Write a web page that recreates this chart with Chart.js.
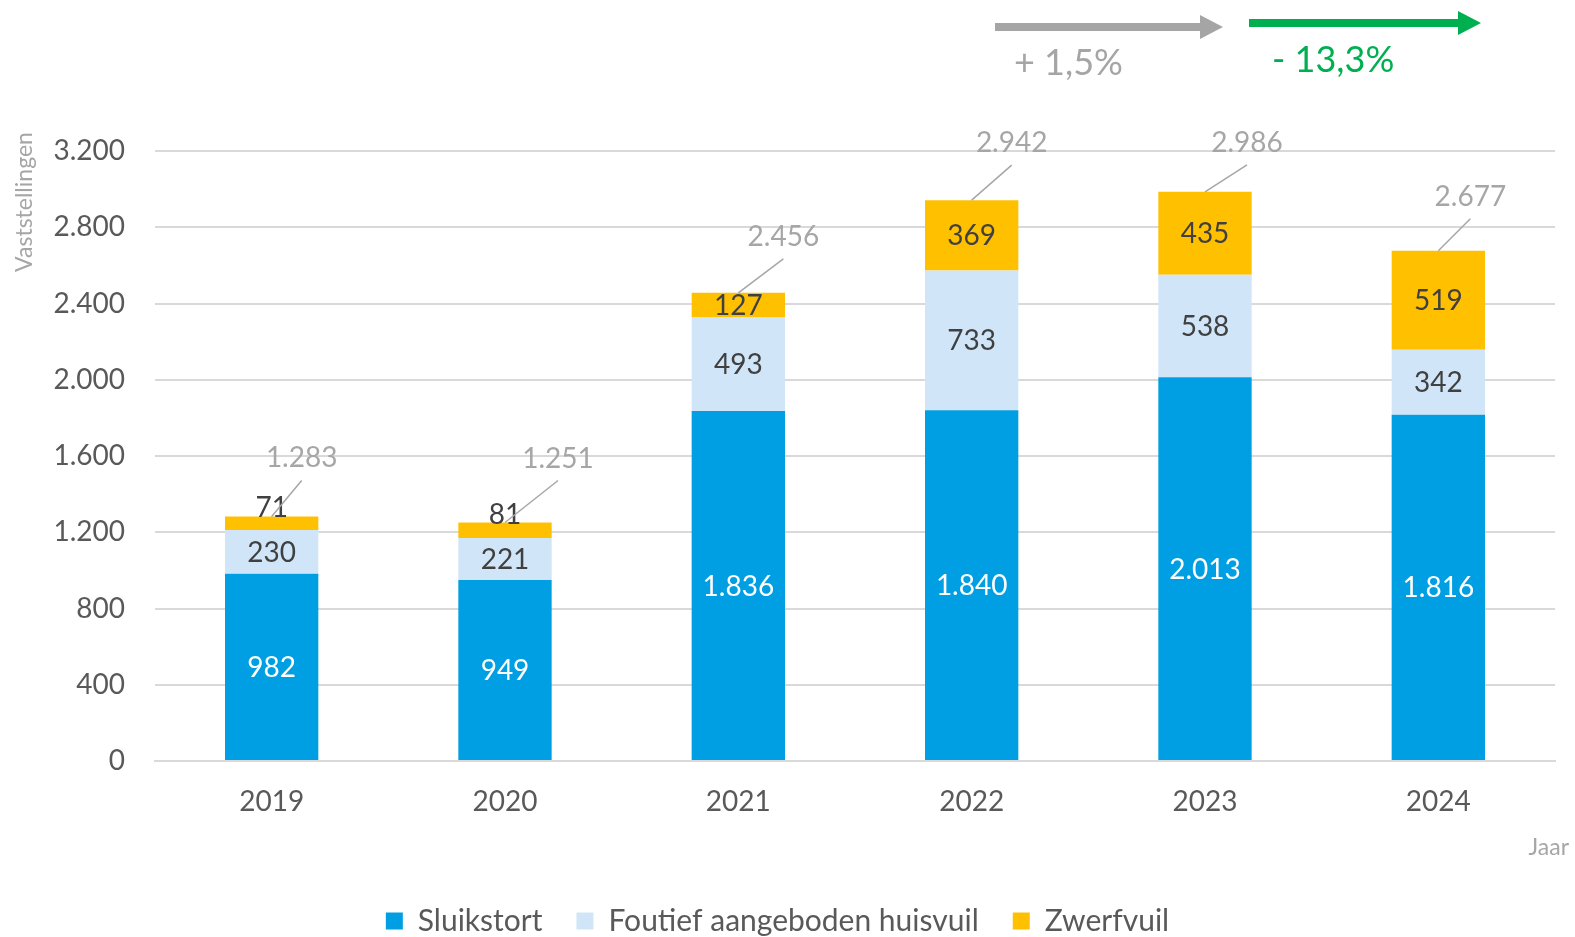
<!DOCTYPE html>
<html>
<head>
<meta charset="utf-8">
<script src="https://cdn.jsdelivr.net/npm/chart.js@4.4.1/dist/chart.umd.min.js"></script>
<style>
  html,body{margin:0;padding:0;background:#fff}
  #wrap{width:1575px;height:937px}
</style>
</head>
<body>
<div id="wrap"><canvas id="c" width="1575" height="937"></canvas></div>
<script>
/* data */
const YEARS      = ['2019','2020','2021','2022','2023','2024'];
const SLUIKSTORT = [982, 949, 1836, 1840, 2013, 1816];
const FOUTIEF    = [230, 221, 493, 733, 538, 342];
const ZWERFVUIL  = [71, 81, 127, 369, 435, 519];
const Y_TICKS    = [0, 400, 800, 1200, 1600, 2000, 2400, 2800, 3200];
const TRENDS     = ['+ 1,5%', '- 13,3%'];

// label offsets for the totals (px, relative to bar top)
const TOTAL_DX = [30, 53, 45, 40, 42, 32];
const TOTAL_DY = [-58, -64, -56, -57, -49, -54];

const FONT = 'Lato, "Open Sans", sans-serif';
const GREY_TXT = '#595959', LIGHT = '#a6a6a6', DARK = '#404040';

const fmt = v => String(v).replace(/\B(?=(\d{3})+(?!\d))/g, '.');

const labelsPlugin = {
  id:'labels',
  afterDatasetsDraw(chart){
    const ctx = chart.ctx;
    ctx.save();
    ctx.font = `28px ${FONT}`;
    ctx.textAlign = 'center'; ctx.textBaseline = 'middle';
    // segment values (small top segments sit a bit higher, like Excel does)
    chart.data.datasets.forEach((ds, di)=>{
      chart.getDatasetMeta(di).data.forEach((el, i)=>{
        ctx.fillStyle = di===0 ? '#ffffff' : DARK;
        const h = el.base - el.y;
        const y = h < 24 ? el.y - 8 : (el.y + el.base)/2 + 1;
        ctx.fillText(fmt(ds.data[i]), el.x, y);
      });
    });
    // totals with leader lines
    const top = chart.getDatasetMeta(chart.data.datasets.length-1).data;
    top.forEach((el, i)=>{
      const total = chart.data.datasets.reduce((s,d)=>s+d.data[i], 0);
      const lx = el.x + TOTAL_DX[i], ly = el.y + TOTAL_DY[i];
      ctx.strokeStyle = LIGHT; ctx.lineWidth = 1.5;
      ctx.beginPath(); ctx.moveTo(lx, ly + 22); ctx.lineTo(el.x, el.y); ctx.stroke();
      ctx.fillStyle = LIGHT;
      ctx.fillText(fmt(total), lx, ly);
    });
    ctx.restore();
  },
  afterDraw(chart){
    const ctx = chart.ctx;
    ctx.save();
    // axis titles
    ctx.fillStyle = LIGHT;
    ctx.font = `23px ${FONT}`;
    ctx.textAlign = 'center'; ctx.textBaseline = 'middle';
    ctx.translate(25, 202); ctx.rotate(-Math.PI/2);
    ctx.fillText('Vaststellingen', 0, 0);
    ctx.setTransform(1,0,0,1,0,0);
    ctx.textAlign = 'right';
    ctx.fillText('Jaar', 1569, 848);

    // trend arrows
    const arrow = (x0, x1, y, col) => {
      ctx.fillStyle = col;
      ctx.fillRect(x0, y-4, x1-23-x0, 8);
      ctx.beginPath(); ctx.moveTo(x1-23, y-12); ctx.lineTo(x1, y); ctx.lineTo(x1-23, y+12); ctx.closePath(); ctx.fill();
    };
    arrow(995, 1223, 27, '#a5a5a5');
    arrow(1249, 1481, 23, '#00b050');
    ctx.font = `36px ${FONT}`;
    ctx.textAlign = 'left';
    ctx.fillStyle = '#a5a5a5'; ctx.fillText(TRENDS[0], 1014, 63);
    ctx.fillStyle = '#00b050'; ctx.fillText(TRENDS[1], 1272, 60);
    ctx.restore();
  }
};

new Chart(document.getElementById('c'), {
  type:'bar',
  data:{
    labels: YEARS,
    datasets:[
      {label:'Sluikstort', data:SLUIKSTORT, backgroundColor:'#009fe3'},
      {label:'Foutief aangeboden huisvuil', data:FOUTIEF, backgroundColor:'#d0e6f8'},
      {label:'Zwerfvuil', data:ZWERFVUIL, backgroundColor:'#ffc000'}
    ]
  },
  options:{
    responsive:false, animation:false,
    layout:{padding:{top:151, right:20, bottom:-9, left:0}},
    datasets:{bar:{barPercentage:0.4, categoryPercentage:1}},
    plugins:{
      legend:{position:'bottom',
        labels:{color:GREY_TXT, font:{family:FONT, size:30}, boxWidth:17, boxHeight:17, padding:34}},
      tooltip:{enabled:false}
    },
    scales:{
      x:{stacked:true,
         grid:{display:false, drawTicks:false},
         border:{color:'#d9d9d9', width:2},
         ticks:{color:GREY_TXT, font:{family:FONT, size:28}, padding:24},
         afterFit:s=>{ s.height = 111; }},
      y:{stacked:true, min:0, max:3200,
         afterBuildTicks:s=>{ s.ticks = Y_TICKS.map(v=>({value:v})); },
         grid:{color:'#d9d9d9', lineWidth:2, drawTicks:false},
         border:{display:false},
         ticks:{color:GREY_TXT, font:{family:FONT, size:28}, padding:30, callback:v=>fmt(v)},
         afterFit:s=>{ s.width = 155; }}
    }
  },
  plugins:[labelsPlugin]
});
</script>
</body>
</html>
